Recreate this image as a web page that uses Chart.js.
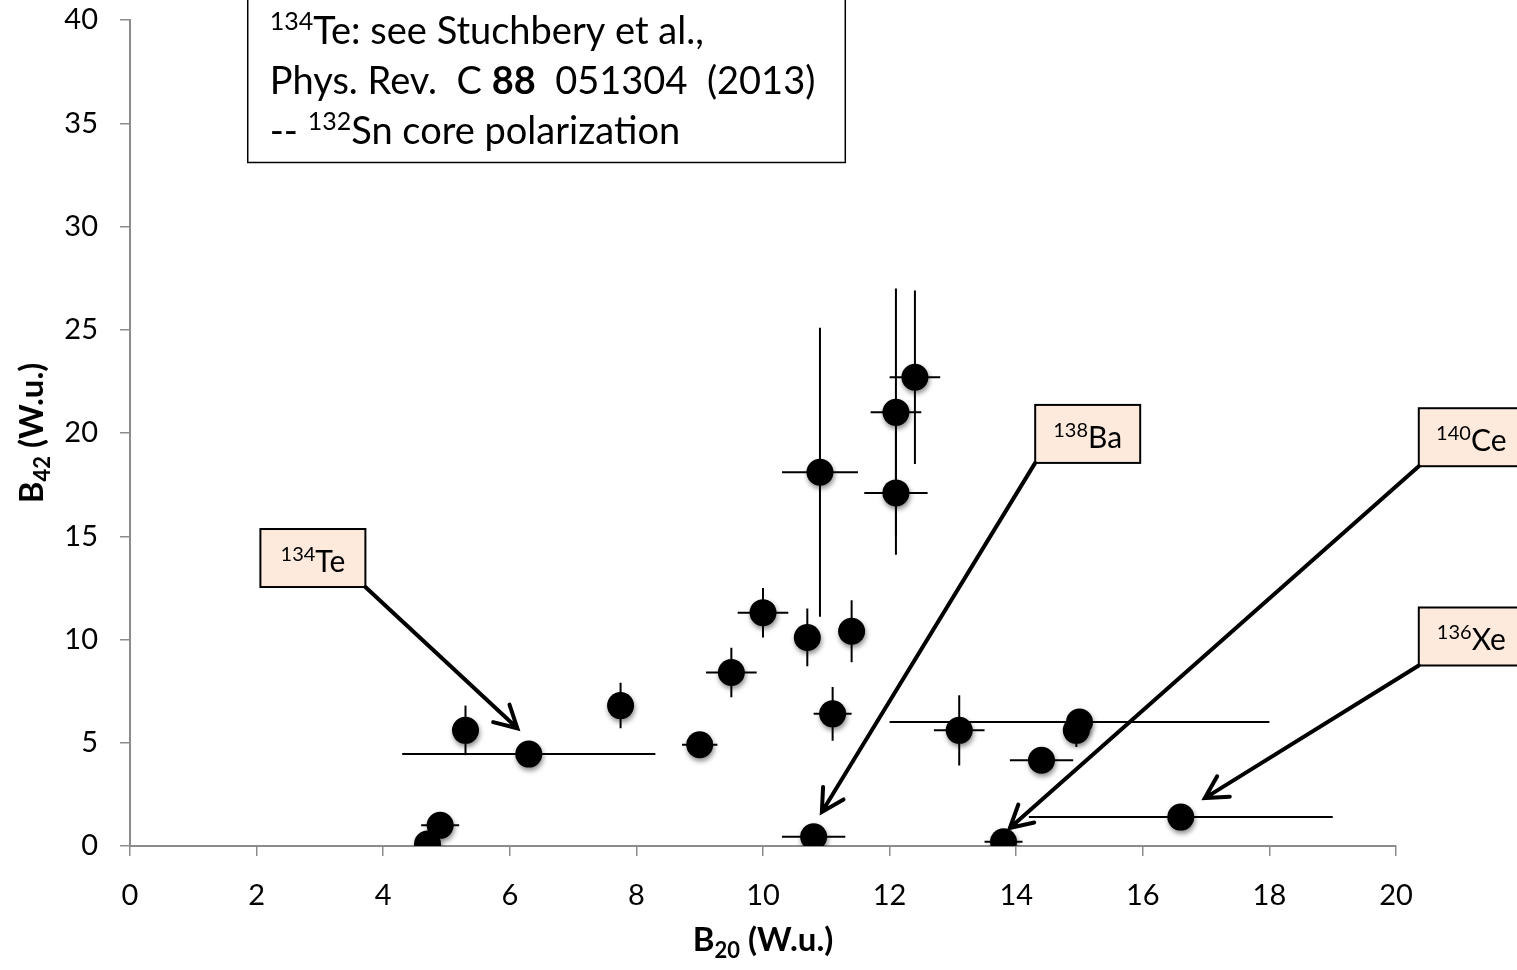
<!DOCTYPE html>
<html>
<head>
<meta charset="utf-8">
<script src="https://cdn.jsdelivr.net/npm/chart.js@4"></script>
<style>
  html, body { margin: 0; padding: 0; background: #fff; }
  #wrap { width: 1517px; height: 970px; }
</style>
</head>
<body>
<div id="wrap"><canvas id="bChart" width="1517" height="970"></canvas></div>
<script>
// B(E2; 2->0) vs B(E2; 4->2), with uncertainties
const b20    = [4.7, 4.9, 5.3, 6.3, 7.75, 9.0, 9.5, 10.0, 10.7, 11.4, 11.1, 10.9, 12.1, 12.1, 12.4, 13.1, 15.0, 14.95, 14.4, 13.8, 16.6, 10.8];
const b20Err = [0, 0.3, 0, 2.0, 0.2, 0.28, 0.4, 0.4, 0.2, 0, 0.3, 0.6, 0.4, 0.5, 0.4, 0.4, 3.0, 0, 0.5, 0.3, 2.4, 0.5];
const b42    = [0.1, 1.0, 5.6, 4.45, 6.8, 4.9, 8.4, 11.3, 10.1, 10.4, 6.4, 18.1, 21.0, 17.1, 22.7, 5.6, 6.0, 5.6, 4.15, 0.2, 1.4, 0.45];
const b42Err = [0, 0, 1.2, 0, 1.1, 0, 1.2, 1.2, 1.4, 1.5, 1.3, 7.0, 6.0, 3.0, 4.2, 1.7, 0, 0.8, 0, 0, 0, 0];

const xTicks = [0, 2, 4, 6, 8, 10, 12, 14, 16, 18, 20];
const yTicks = [0, 5, 10, 15, 20, 25, 30, 35, 40];

// labelled nuclei: mass number, symbol, box corner (data units), arrow tip (data units)
const noteMass = ['134', '138', '140', '136'];
const noteSym  = ['Te', 'Ba', 'Ce', 'Xe'];
const noteBox  = [[2.06, 15.35], [14.3, 21.36], [20.36, 21.2], [20.36, 11.55]];
const noteTip  = [[6.12, 5.7], [10.93, 1.65], [13.9, 0.87], [16.98, 2.32]];

const FONT = 'Lato, "Open Sans", sans-serif';

function richText(ctx, parts, x, y, size, align) {
  // parts: [text, 'sup'|'sub'|'b'|'bsub'|'']
  const fontFor = p => {
    const small = p[1] === 'sup' || p[1] === 'sub' || p[1] === 'bsub';
    const bold = p[1] === 'b' || p[1] === 'bsub' ? 'bold ' : '';
    return bold + (small ? Math.round(size * 0.66) : size) + 'px ' + FONT;
  };
  let w = 0;
  parts.forEach(p => { ctx.font = fontFor(p); w += ctx.measureText(p[0]).width; });
  let cx = align === 'center' ? x - w / 2 : x;
  ctx.textAlign = 'left';
  ctx.textBaseline = 'alphabetic';
  parts.forEach(p => {
    ctx.font = fontFor(p);
    let dy = 0;
    if (p[1] === 'sup') dy = -size * 0.38;
    if (p[1] === 'sub' || p[1] === 'bsub') dy = size * 0.22;
    ctx.fillText(p[0], cx, y + dy);
    cx += ctx.measureText(p[0]).width;
  });
}

const errorBars = {
  id: 'errorBars',
  beforeDatasetsDraw(chart) {
    const { ctx, scales: { x, y } } = chart;
    ctx.save();
    ctx.strokeStyle = '#000';
    ctx.lineWidth = 2;
    b20.forEach((v, i) => {
      const px = x.getPixelForValue(v), py = y.getPixelForValue(b42[i]);
      ctx.beginPath();
      if (b20Err[i]) {
        ctx.moveTo(x.getPixelForValue(v - b20Err[i]), py);
        ctx.lineTo(x.getPixelForValue(v + b20Err[i]), py);
      }
      if (b42Err[i]) {
        ctx.moveTo(px, y.getPixelForValue(b42[i] - b42Err[i]));
        ctx.lineTo(px, y.getPixelForValue(b42[i] + b42Err[i]));
      }
      ctx.stroke();
    });
    ctx.restore();
  }
};

const markerShadow = {
  id: 'markerShadow',
  beforeDatasetDraw(chart) {
    const ctx = chart.ctx;
    ctx.save();
    ctx.shadowColor = 'rgba(0,0,0,0.45)';
    ctx.shadowBlur = 5;
    ctx.shadowOffsetX = 1;
    ctx.shadowOffsetY = 3;
  },
  afterDatasetDraw(chart) { chart.ctx.restore(); }
};

const callouts = {
  id: 'callouts',
  afterDatasetsDraw(chart) {
    const { ctx, scales: { x, y } } = chart;
    ctx.save();
    noteSym.forEach((sym, i) => {
      const bx = x.getPixelForValue(noteBox[i][0]);
      const by = y.getPixelForValue(noteBox[i][1]);
      const w = 105, h = 58;
      ctx.fillStyle = '#fdeadd';
      ctx.fillRect(bx, by, w, h);
      ctx.strokeStyle = '#000';
      ctx.lineWidth = 2;
      ctx.strokeRect(bx, by, w, h);
      ctx.fillStyle = '#000';
      richText(ctx, [[noteMass[i], 'sup'], [sym, '']], bx + w / 2, by + 43, 30, 'center');

      // arrow from the box corner to the point
      const sx = i === 0 ? bx + w : bx, sy = by + h;
      const tx = x.getPixelForValue(noteTip[i][0]), ty = y.getPixelForValue(noteTip[i][1]);
      ctx.lineWidth = 4;
      ctx.lineCap = 'round';
      ctx.beginPath();
      ctx.moveTo(sx, sy);
      ctx.lineTo(tx, ty);
      const a = Math.atan2(ty - sy, tx - sx), L = 25, sp = 0.5;
      ctx.moveTo(tx - L * Math.cos(a - sp), ty - L * Math.sin(a - sp));
      ctx.lineTo(tx, ty);
      ctx.lineTo(tx - L * Math.cos(a + sp), ty - L * Math.sin(a + sp));
      ctx.stroke();
    });
    ctx.restore();
  },
  afterDraw(chart) {
    const { ctx, scales: { x, y }, chartArea } = chart;
    ctx.save();
    // reference note box
    const l = x.getPixelForValue(1.86), r = x.getPixelForValue(11.3), b = y.getPixelForValue(33.1);
    ctx.fillStyle = '#fff';
    ctx.fillRect(l, -4, r - l, b + 4);
    ctx.strokeStyle = '#000';
    ctx.lineWidth = 1.5;
    ctx.strokeRect(l, -4, r - l, b + 4);
    ctx.fillStyle = '#000';
    const size = 38;
    richText(ctx, [['134', 'sup'], ['Te: see Stuchbery et al.,', '']], l + 22, 44, size);
    richText(ctx, [['Phys. Rev.  C ', ''], ['88', 'b'], ['  051304  (2013)', '']], l + 22, 94, size);
    richText(ctx, [['-- ', ''], ['132', 'sup'], ['Sn core polarization', '']], l + 22, 144, size);

    // axis titles
    richText(ctx, [['B', 'b'], ['20', 'bsub'], [' (W.u.)', 'b']], (chartArea.left + chartArea.right) / 2, 951, 33, 'center');
    ctx.translate(43, (chartArea.top + chartArea.bottom) / 2);
    ctx.rotate(-Math.PI / 2);
    richText(ctx, [['B', 'b'], ['42', 'bsub'], [' (W.u.)', 'b']], 0, 0, 33, 'center');
    ctx.restore();
  }
};

const axisColor = '#8c8c8c';

new Chart(document.getElementById('bChart'), {
  type: 'scatter',
  data: {
    datasets: [{
      data: b20.map((v, i) => ({ x: v, y: b42[i] })),
      pointRadius: 13.5,
      pointHoverRadius: 13.5,
      backgroundColor: '#000',
      borderColor: '#000',
      borderWidth: 0
    }]
  },
  options: {
    responsive: false,
    animation: false,
    layout: { padding: { top: 20, right: 121, left: 0, bottom: 0 } },
    plugins: { legend: { display: false }, tooltip: { enabled: false } },
    scales: {
      x: {
        type: 'linear',
        min: 0, max: 20,
        afterBuildTicks: s => { s.ticks = xTicks.map(v => ({ value: v })); },
        afterFit: s => { s.height = 124; s.paddingLeft = 0; s.paddingRight = 0; },
        border: { color: axisColor, width: 2 },
        grid: { drawOnChartArea: false, color: axisColor, tickLength: 10, lineWidth: 1.5 },
        ticks: { color: '#000', padding: 22, font: { family: FONT, size: 29 } }
      },
      y: {
        type: 'linear',
        min: 0, max: 40,
        afterBuildTicks: s => { s.ticks = yTicks.map(v => ({ value: v })); },
        afterFit: s => { s.width = 130; s.paddingTop = 0; s.paddingBottom = 0; },
        border: { color: axisColor, width: 2 },
        grid: { drawOnChartArea: false, color: axisColor, tickLength: 10, lineWidth: 1.5 },
        ticks: { color: '#000', padding: 22, font: { family: FONT, size: 29 } }
      }
    }
  },
  plugins: [errorBars, markerShadow, callouts]
});
</script>
</body>
</html>
